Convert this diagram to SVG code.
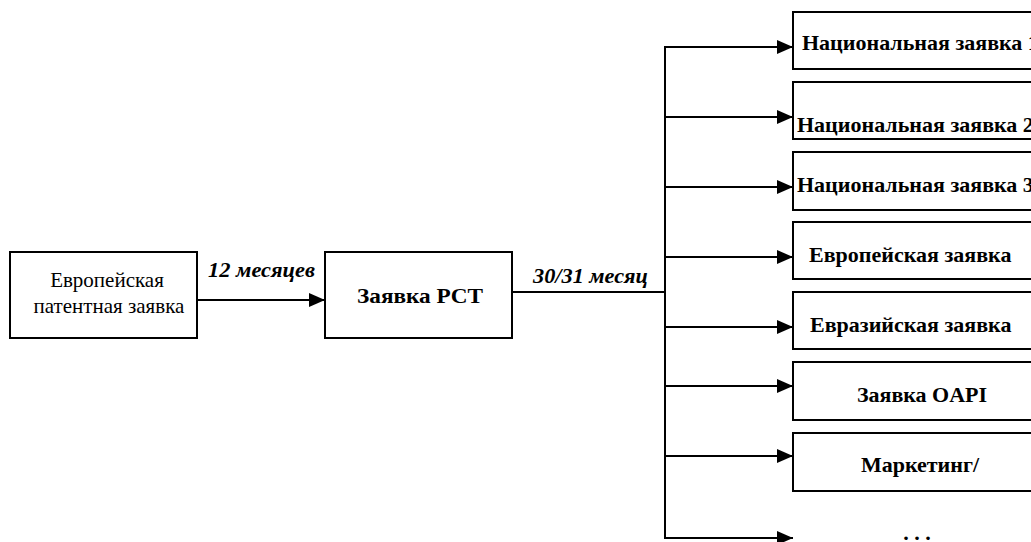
<svg xmlns="http://www.w3.org/2000/svg" width="1031" height="542" viewBox="0 0 1031 542">
<style>
.box{fill:#fff;stroke:#000;stroke-width:2}
.reg{font-family:"Liberation Serif",serif;font-size:21px;fill:#000}
.bold{font-family:"Liberation Serif",serif;font-size:22px;font-weight:bold;fill:#000}
.lbl{font-family:"Liberation Serif",serif;font-size:22px;font-weight:bold;font-style:italic;fill:#000}
.line{stroke:#000;stroke-width:2;fill:none}
</style>
<defs>
<marker id="arr" markerUnits="userSpaceOnUse" markerWidth="17" markerHeight="14" refX="16" refY="7" orient="auto">
<path d="M0,0 L16,7 L0,14 Z" fill="#000"/>
</marker>
</defs>
<rect width="1031" height="542" fill="#fff"/>
<g id="connectors">
<line class="line" x1="197" y1="300" x2="325" y2="300" marker-end="url(#arr)"/>
<line class="line" x1="512" y1="292" x2="665" y2="292"/>
<line class="line" x1="665" y1="47" x2="665" y2="539"/>
<line class="line" x1="664" y1="47" x2="793" y2="47" marker-end="url(#arr)"/>
<line class="line" x1="664" y1="117" x2="793" y2="117" marker-end="url(#arr)"/>
<line class="line" x1="664" y1="187" x2="793" y2="187" marker-end="url(#arr)"/>
<line class="line" x1="664" y1="257" x2="793" y2="257" marker-end="url(#arr)"/>
<line class="line" x1="664" y1="327" x2="793" y2="327" marker-end="url(#arr)"/>
<line class="line" x1="664" y1="386" x2="793" y2="386" marker-end="url(#arr)"/>
<line class="line" x1="664" y1="456" x2="793" y2="456" marker-end="url(#arr)"/>
<line class="line" x1="664" y1="538" x2="793" y2="538" marker-end="url(#arr)"/>
<text class="lbl" x="208" y="277" textLength="107" lengthAdjust="spacingAndGlyphs">12 месяцев</text>
<text class="lbl" x="533" y="283" textLength="115" lengthAdjust="spacingAndGlyphs">30/31 месяц</text>
</g>
<g id="node-epo">
<rect class="box" x="10" y="252" width="187" height="86"/>
<text class="reg" x="107" y="287" text-anchor="middle">Европейская</text>
<text class="reg" x="109" y="313" text-anchor="middle">патентная заявка</text>
</g>
<g id="node-pct">
<rect class="box" x="325" y="252" width="187" height="86"/>
<text class="bold" x="357" y="303" textLength="126" lengthAdjust="spacingAndGlyphs">Заявка PCT</text>
</g>
<g id="node-nat1">
<rect class="box" x="793" y="12" width="250" height="57"/>
<text class="bold" x="802" y="50">Национальная заявка 1</text>
</g>
<g id="node-nat2">
<rect class="box" x="793" y="82" width="250" height="57"/>
<text class="bold" x="797" y="132">Национальная заявка 2</text>
</g>
<g id="node-nat3">
<rect class="box" x="793" y="152" width="250" height="58"/>
<text class="bold" x="797" y="192">Национальная заявка 3</text>
</g>
<g id="node-ep">
<rect class="box" x="793" y="222" width="250" height="57"/>
<text class="bold" x="809" y="262">Европейская заявка</text>
</g>
<g id="node-ea">
<rect class="box" x="793" y="292" width="250" height="57"/>
<text class="bold" x="810" y="332">Евразийская заявка</text>
</g>
<g id="node-oapi">
<rect class="box" x="793" y="362" width="250" height="58"/>
<text class="bold" x="922" y="402" text-anchor="middle">Заявка OAPI</text>
</g>
<g id="node-mkt">
<rect class="box" x="793" y="433" width="250" height="58"/>
<text class="bold" x="920" y="472" text-anchor="middle">Маркетинг/</text>
</g>
<g id="node-more">
<text class="bold" x="917" y="540" text-anchor="middle">. . .</text>
</g>
</svg>
